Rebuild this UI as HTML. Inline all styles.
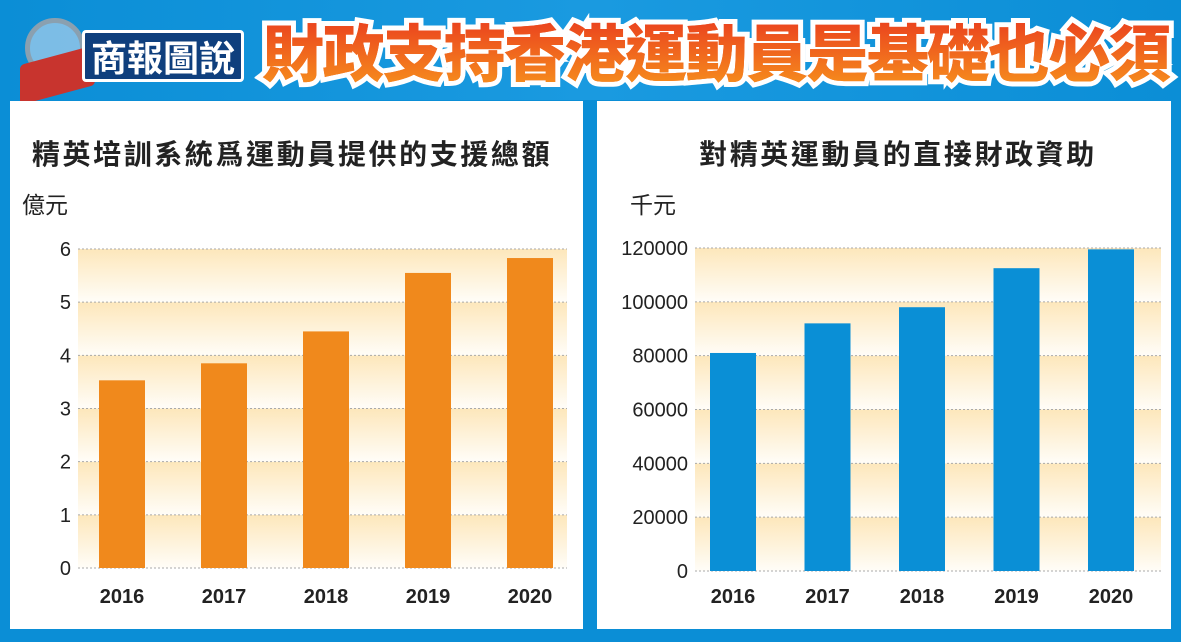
<!DOCTYPE html>
<html><head><meta charset="utf-8">
<style>
body{margin:0;width:1181px;height:642px;overflow:hidden;background:#0b8ed6;font-family:"Liberation Sans","Noto Sans CJK TC",sans-serif;position:relative}
.panel{position:absolute;background:#fff;top:101px;height:528px}
.t{position:absolute;white-space:nowrap}
</style></head><body>
<div style="position:absolute;left:0;top:0;width:1181px;height:100px;background:linear-gradient(90deg,#0b8ed6,#1a9ae0 50%,#0b8ed6)"></div>
<div style="position:absolute;left:25px;top:18px;width:50px;height:50px;border-radius:50%;border:5px solid #8aa0b0;background:rgba(200,220,240,0.6)"></div>
<div style="position:absolute;left:20px;top:55px;width:75px;height:40px;background:#c8342e;transform:skewY(-15deg);border-radius:4px"></div>
<div class="t" style="left:82px;top:30px;width:162px;height:52px;background:#0f3f7d;border:3px solid #fff;border-radius:4px;color:#fff;font-size:36px;font-weight:bold;text-align:center;line-height:46px;font-family:'Noto Sans CJK TC',sans-serif;box-sizing:border-box">商報圖說</div>
<div class="t" style="left:262px;top:6px;font-size:62px;font-weight:900;font-family:'Noto Sans CJK TC',sans-serif;color:#f05a1e;-webkit-text-stroke:10px #fff;paint-order:stroke fill;letter-spacing:-1.5px;line-height:86px">財政支持香港運動員是基礎也必須</div>
<div class="t" style="left:262px;top:6px;font-size:62px;font-weight:900;font-family:'Noto Sans CJK TC',sans-serif;background:linear-gradient(#e8321e,#f7941d);-webkit-background-clip:text;color:transparent;letter-spacing:-1.5px;line-height:86px">財政支持香港運動員是基礎也必須</div>

<div class="panel" style="left:10px;width:573px"></div>
<div class="panel" style="left:597px;width:574px"></div>
<svg id="c" width="1181" height="642" style="position:absolute;left:0;top:0" font-family="Liberation Sans, Noto Sans CJK TC, sans-serif">
<defs><linearGradient id="band" x1="0" y1="0" x2="0" y2="1"><stop offset="0" stop-color="#fde7bb"/><stop offset="1" stop-color="#fffdf8"/></linearGradient></defs>
<text x="292" y="164" text-anchor="middle" font-size="28" letter-spacing="2.6" font-weight="bold" fill="#222">精英培訓系統爲運動員提供的支援總額</text>
<text x="898" y="164" text-anchor="middle" font-size="28" letter-spacing="2.6" font-weight="bold" fill="#222">對精英運動員的直接財政資助</text>
<text x="22" y="213" font-size="23" fill="#222">億元</text>
<text x="630" y="213" font-size="23" fill="#222">千元</text>
<g id="g1"></g><g id="g2"></g>
</svg>
<script>
const years=["2016","2017","2018","2019","2020"];
const leftVals=[3.53,3.85,4.45,5.55,5.83];
const leftTicks=[0,1,2,3,4,5,6];
const rightVals=[81000,92000,98000,112500,119500];
const rightTicks=[0,20000,40000,60000,80000,100000,120000];
const NS="http://www.w3.org/2000/svg";
function mk(p,t,a){const e=document.createElementNS(NS,t);for(const k in a)e.setAttribute(k,a[k]);p.appendChild(e);return e;}
function chart(g,vals,ticks,o){
  const max=ticks[ticks.length-1];
  const y=v=>o.y0-(v/max)*(o.y0-o.y1);
  const x=i=>o.x0+o.first+i*o.step;
  for(let i=0;i<ticks.length-1;i++){
    const b=mk(g,'rect',{x:o.x0,y:y(ticks[i+1]),width:o.x1-o.x0,height:y(ticks[i])-y(ticks[i+1]),fill:'url(#band)'});
    
    
  }
  ticks.forEach(t=>{
    const l=mk(g,'line',{x1:o.x0,x2:o.x1,y1:y(t),y2:y(t),stroke:'#aaa','stroke-dasharray':'2 2'});
    
    
    const tx=mk(g,'text',{x:o.x0-7,y:y(t)+7,'text-anchor':'end','font-size':20,fill:'#222'});
    tx.textContent=t;
    
    
  });
  vals.forEach((v,i)=>{
    const r=mk(g,'rect',{x:x(i)-o.bw/2,y:y(v),width:o.bw,height:o.y0-y(v),fill:o.color});
    
    
    const tx=mk(g,'text',{x:x(i),y:603,'text-anchor':'middle','font-size':20,'font-weight':'bold',fill:'#222'});
    tx.textContent=years[i];
    
    
  });
}
chart(document.getElementById('g1'),leftVals,leftTicks,{x0:78,x1:567,y0:568,y1:249,first:44,step:102,bw:46,color:'#f0891c'});
chart(document.getElementById('g2'),rightVals,rightTicks,{x0:695,x1:1161,y0:571,y1:248,first:38,step:94.5,bw:46,color:'#0a8fd6'});
</script>
</body></html>
